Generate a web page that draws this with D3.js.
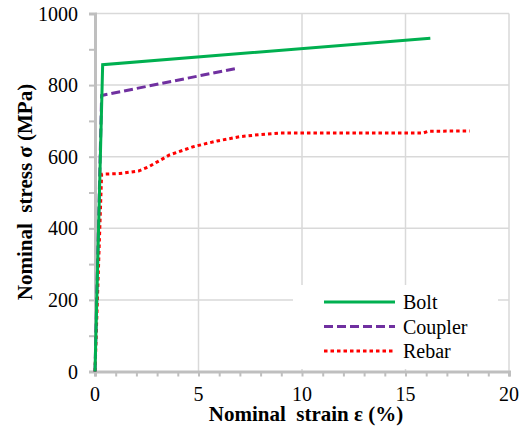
<!DOCTYPE html>
<html>
  <head>
    <style type="text/css">
      body { margin: 0; background: #fff; }
    </style>
  </head>
  <body>
    <div id="canvas"></div>
    <script type="text/javascript" src="https://cdn.jsdelivr.net/npm/d3@7/dist/d3.min.js"></script>
    <script type="text/javascript">
      // strain (%) / stress (MPa)
      var boltStrain = [0, 0.37, 16.2];
      var boltStress = [0, 857, 931];
      var couplerStrain = [0, 0.32, 6.85];
      var couplerStress = [0, 771, 847];
      var rebarStrain = [0, 0.32, 1.2, 2.1, 2.6, 3.6, 4.75, 5.9, 7.0, 8.0, 8.95, 15.85, 16.1, 18.1];
      var rebarStress = [0, 551, 553, 560, 572, 605, 628, 644, 656, 662, 666, 666, 671, 672];

      var seriesNames = ['Bolt', 'Coupler', 'Rebar'];
      var seriesColors = ['#00b050', '#7030a0', '#ff0000'];
      var seriesDash = [null, '9,4', '3.5,3'];

      var xTicks = [0, 5, 10, 15, 20];
      var yTicks = [0, 200, 400, 600, 800, 1000];

      var serif = "'Liberation Serif', serif";
      var width = 526, height = 430;
      var x = d3.scaleLinear().domain([0, 20]).range([95, 509]);
      var y = d3.scaleLinear().domain([0, 1000]).range([371.5, 13.5]);

      var svg = d3.select('#canvas').append('svg')
        .attr('width', width)
        .attr('height', height);

      // gridlines
      svg.append('g').selectAll('line').data(yTicks.slice(1)).enter().append('line')
        .attr('x1', x(0)).attr('x2', x(20))
        .attr('y1', function (d) { return y(d); }).attr('y2', function (d) { return y(d); })
        .attr('stroke', '#d9d9d9').attr('stroke-width', 1.5);
      svg.append('g').selectAll('line').data(xTicks.slice(1)).enter().append('line')
        .attr('x1', function (d) { return x(d); }).attr('x2', function (d) { return x(d); })
        .attr('y1', y(0)).attr('y2', y(1000))
        .attr('stroke', '#d9d9d9').attr('stroke-width', 1.5);

      // axes
      var xAxis = d3.axisBottom(x).tickValues(d3.range(0, 21, 1)).tickSize(5).tickFormat('');
      var yAxis = d3.axisLeft(y).tickValues(d3.range(0, 1001, 100)).tickSize(6).tickFormat('');
      var gx = svg.append('g').attr('transform', 'translate(0,' + y(0) + ')').call(xAxis);
      var gy = svg.append('g').attr('transform', 'translate(' + x(0) + ',0)').call(yAxis);
      [gx, gy].forEach(function (g) {
        g.select('.domain').attr('stroke', '#bfbfbf').attr('stroke-width', 3);
        g.selectAll('.tick line').attr('stroke', '#bfbfbf').attr('stroke-width', 2);
      });

      svg.append('g').selectAll('text').data(xTicks).enter().append('text')
        .attr('x', function (d) { return x(d); })
        .attr('y', 401)
        .attr('text-anchor', 'middle')
        .attr('font-family', serif).attr('font-size', 20)
        .text(function (d) { return d; });
      svg.append('g').selectAll('text').data(yTicks).enter().append('text')
        .attr('x', 78)
        .attr('y', function (d) { return y(d); })
        .attr('dy', '0.35em')
        .attr('text-anchor', 'end')
        .attr('font-family', serif).attr('font-size', 20)
        .text(function (d) { return d; });

      // axis titles
      svg.append('text')
        .attr('x', 306).attr('y', 421)
        .attr('text-anchor', 'middle')
        .attr('font-family', serif).attr('font-size', 21).attr('font-weight', 'bold')
        .attr('style', 'white-space:pre')
        .text('Nominal  strain \u03b5 (%)');
      svg.append('text')
        .attr('transform', 'translate(32,192) rotate(-90)')
        .attr('text-anchor', 'middle')
        .attr('font-family', serif).attr('font-size', 21).attr('font-weight', 'bold')
        .attr('style', 'white-space:pre')
        .text('Nominal  stress \u03c3 (MPa)');

      // legend background hides gridlines
      svg.append('rect')
        .attr('x', 293).attr('y', 285).attr('width', 205).attr('height', 84)
        .attr('fill', '#fff');

      var line = d3.line()
        .x(function (d) { return x(d[0]); })
        .y(function (d) { return y(d[1]); });

      var series = [
        d3.zip(boltStrain, boltStress),
        d3.zip(couplerStrain, couplerStress),
        d3.zip(rebarStrain, rebarStress)
      ];

      // rebar drawn first, bolt on top
      [2, 1, 0].forEach(function (i) {
        svg.append('path')
          .datum(series[i])
          .attr('d', line)
          .attr('fill', 'none')
          .attr('stroke', seriesColors[i])
          .attr('stroke-width', 3)
          .attr('stroke-dasharray', seriesDash[i]);
      });

      var legend = svg.append('g').selectAll('g').data(seriesNames).enter().append('g')
        .attr('transform', function (d, i) { return 'translate(324,' + (302 + i * 24.5) + ')'; });
      legend.append('line')
        .attr('x1', 0).attr('x2', 71)
        .attr('stroke', function (d, i) { return seriesColors[i]; })
        .attr('stroke-width', 3)
        .attr('stroke-dasharray', function (d, i) { return seriesDash[i]; });
      legend.append('text')
        .attr('x', 79).attr('dy', '0.35em')
        .attr('font-family', serif).attr('font-size', 20)
        .text(function (d) { return d; });
    </script>
  </body>
</html>
